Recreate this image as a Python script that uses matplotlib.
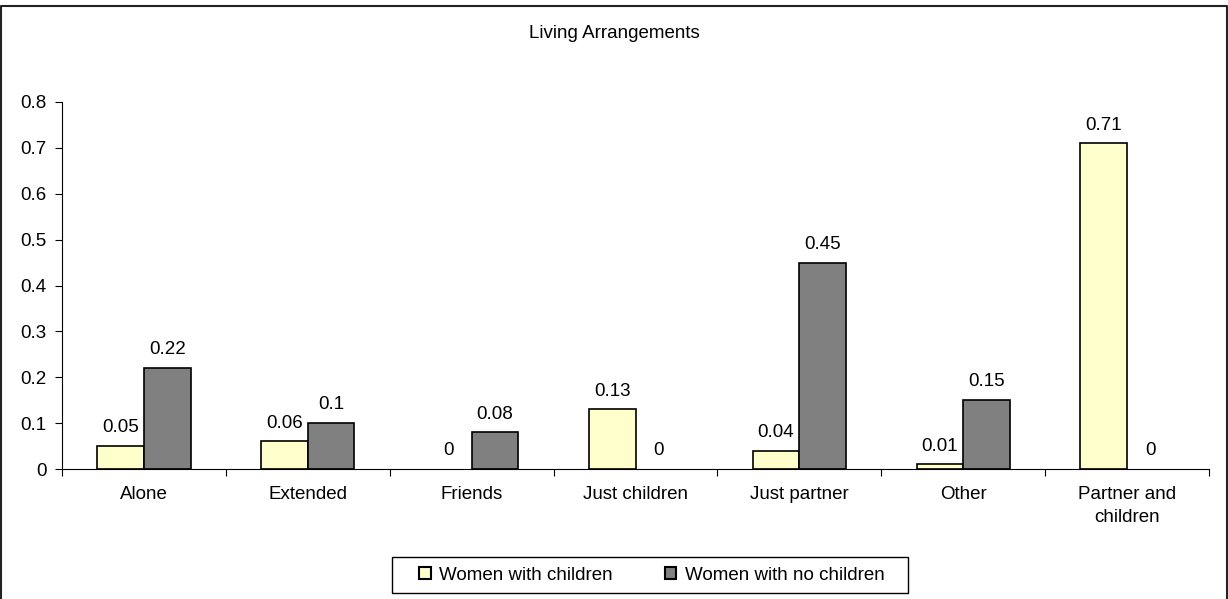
import matplotlib
matplotlib.use("Agg")
import matplotlib.pyplot as plt
from matplotlib.patches import Patch, Rectangle
from matplotlib.lines import Line2D
import numpy as np

categories = ["Alone", "Extended", "Friends", "Just children", "Just partner", "Other", "Partner and\nchildren"]
with_children = [0.05, 0.06, 0, 0.13, 0.04, 0.01, 0.71]
no_children = [0.22, 0.10, 0.08, 0, 0.45, 0.15, 0]
series_names = ["Women with children", "Women with no children"]
y_ticks = [0, 0.1, 0.2, 0.3, 0.4, 0.5, 0.6, 0.7, 0.8]
y_tick_labels = ["0", "0.1", "0.2", "0.3", "0.4", "0.5", "0.6", "0.7", "0.8"]

plt.rcParams["font.family"] = ["Liberation Sans", "DejaVu Sans"]
FS = 13.5
plt.rcParams["font.size"] = FS

W, H = 1228, 599
fig = plt.figure(figsize=(W / 100, H / 100), dpi=100)

def fx(px):
    return px / W

def fy(py):
    return 1 - py / H

# outer chart border (left, top, right)
fig.lines.append(Line2D([fx(1.5), fx(1.5), fx(1226.5), fx(1226.5)],
                        [fy(600), fy(5.5), fy(5.5), fy(600)],
                        transform=fig.transFigure, color="#222222", linewidth=1.5))

ax = fig.add_axes([fx(62), fy(469), fx(1209 - 62), (469 - 102) / H])

x = np.arange(len(categories)) + 0.5
bw = 0.285
yellow = "#FFFFCC"
gray = "#808080"

def draw_series(offset, vals, color):
    bars = ax.bar(x + offset, vals, bw, color=color, edgecolor="black", linewidth=1.2)
    for rect, v in zip(bars, vals):
        if v == 0:
            rect.set_edgecolor("none")
        ax.annotate("0" if v == 0 else f"{v:g}",
                    (rect.get_x() + rect.get_width() / 2, v),
                    xytext=(0, 7), textcoords="offset points",
                    ha="center", va="bottom", fontsize=FS)
    return bars

draw_series(-bw / 2, with_children, yellow)
draw_series(bw / 2, no_children, gray)

ax.set_xlim(0, len(categories))
ax.set_ylim(0, 0.8)
ax.set_yticks(y_ticks)
ax.set_yticklabels(y_tick_labels)
ax.set_xticks(x)
ax.set_xticklabels(categories, linespacing=1.4)
ax.set_xticks(np.arange(len(categories) + 1), minor=True)
ax.tick_params(axis="x", which="major", length=0, pad=12.5)
ax.tick_params(axis="x", which="minor", length=5, direction="out", width=0.8)
ax.tick_params(axis="y", length=5, direction="out", width=0.8, pad=6)

for s in ("top", "right"):
    ax.spines[s].set_visible(False)
for s in ("left", "bottom"):
    ax.spines[s].set_linewidth(0.8)

fig.text(fx(614), fy(33), "Living Arrangements", ha="center", va="center", fontsize=FS)

# legend box
fig.patches.append(Rectangle((fx(392), fy(593)), (908 - 392) / W, 36 / H,
                             transform=fig.transFigure, fill=False,
                             edgecolor="black", linewidth=1.0))
handles = [Patch(facecolor=yellow, edgecolor="black", linewidth=1.5),
           Patch(facecolor=gray, edgecolor="black", linewidth=1.5)]
fig.legend(handles, series_names, loc="center", ncol=2,
           bbox_to_anchor=(fx(652), fy(575)),
           handlelength=0.6, handleheight=0.6, handletextpad=0.45,
           columnspacing=2.8, frameon=False, borderpad=0,
           borderaxespad=0, fontsize=FS)

fig.savefig("out.png", dpi=100)
